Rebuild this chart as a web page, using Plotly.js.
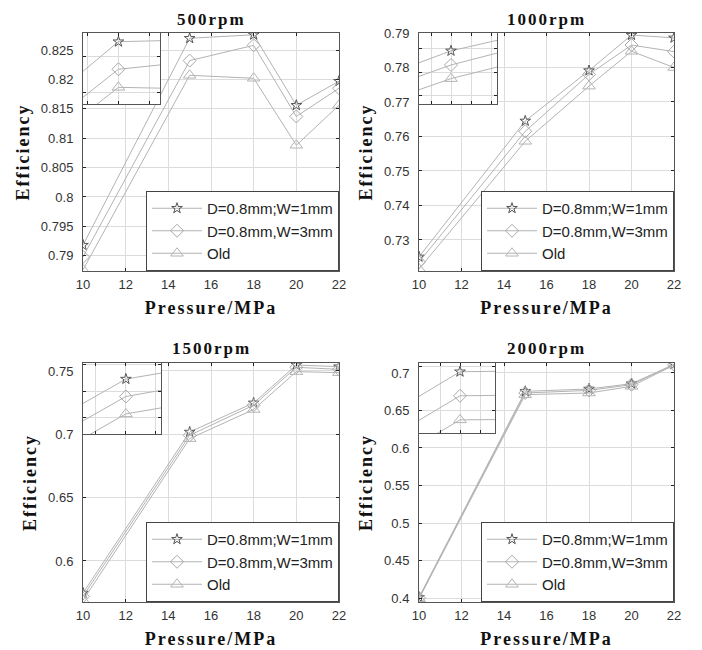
<!DOCTYPE html>
<html><head><meta charset="utf-8">
<script src="https://cdn.plot.ly/plotly-3.0.1.min.js"></script>
<style>
html,body{margin:0;padding:0;background:#fff;}
#chart{width:702px;height:650px;}
text.xtitle, text.x2title, text.x3title, text.x4title,
text.ytitle, text.y2title, text.y3title, text.y4title,
.annotation-text {letter-spacing:2px;}
</style></head><body><div id="chart"></div>
<script>
// ---------------- data ----------------
const pressure = [10, 15, 18, 20, 22];
const seriesNames = ['D=0.8mm;W=1mm', 'D=0.8mm,W=3mm', 'Old'];
const panelTitles = ['500rpm', '1000rpm', '1500rpm', '2000rpm'];
const xTickVals = [10, 12, 14, 16, 18, 20, 22];

const eff500_w1  = [0.7918, 0.8270, 0.8276, 0.8156, 0.8197];
const eff500_w3  = [0.7898, 0.8232, 0.8258, 0.8137, 0.8185];
const eff500_old = [0.7876, 0.8207, 0.8202, 0.8088, 0.8156];

const eff1000_w1  = [0.7251, 0.7645, 0.7791, 0.7894, 0.7886];
const eff1000_w3  = [0.7236, 0.7615, 0.7780, 0.7865, 0.7846];
const eff1000_old = [0.7216, 0.7586, 0.7746, 0.7847, 0.7800];

const eff1500_w1  = [0.5747, 0.7018, 0.7248, 0.7547, 0.7534];
const eff1500_w3  = [0.5721, 0.6992, 0.7230, 0.7529, 0.7513];
const eff1500_old = [0.5690, 0.6966, 0.7196, 0.7495, 0.7487];

const eff2000_w1  = [0.4010, 0.6755, 0.6787, 0.6857, 0.7115];
const eff2000_w3  = [0.4000, 0.6733, 0.6768, 0.6844, 0.7110];
const eff2000_old = [0.3990, 0.6711, 0.6733, 0.6822, 0.7105];

const panelData = [
  [eff500_w1, eff500_w3, eff500_old],
  [eff1000_w1, eff1000_w3, eff1000_old],
  [eff1500_w1, eff1500_w3, eff1500_old],
  [eff2000_w1, eff2000_w3, eff2000_old]
];

// ---------------- styles / layout ----------------
const markerStyles = [
  {symbol: 'star-open', size: 8, color: '#555555'},
  {symbol: 'diamond-open', size: 10, color: '#a8a8a8'},
  {symbol: 'triangle-up-open', size: 11, color: '#b4b4b4'}
];
const lineColor = '#b3b3b3';

const W = 702, H = 650;
const px = v => v / W, py = v => 1 - v / H;
const mainDom = [
  {x: [px(83), px(339)], y: [py(271), py(33)]},
  {x: [px(419), px(674)], y: [py(271), py(33)]},
  {x: [px(83), px(339)], y: [py(602), py(363)]},
  {x: [px(419), px(674)], y: [py(602), py(363)]}
];
const yRanges = [[0.7874, 0.8279], [0.721, 0.79], [0.5676, 0.7563], [0.3947, 0.7133]];
const yDticks = [0.005, 0.01, 0.05, 0.05];

const insetDom = [
  {x: [px(83), px(160)], y: [py(104), py(33)]},
  {x: [px(419), px(497)], y: [py(104), py(33)]},
  {x: [px(83), px(161)], y: [py(434), py(363)]},
  {x: [px(419), px(495)], y: [py(433), py(363)]}
];
const insetX = [[14.42, 15.68], [14.68, 15.46], [14.857, 15.117], [14.959, 15.035]];
const insetXd = [0.5, 0.2, 0.1, 0.02];
const insetY = [[0.8184, 0.8282], [0.7532, 0.7683], [0.6936, 0.7042], [0.6699, 0.6763]];
const insetYd = [0.005, 0.005, 0.004, 0.004];

const tickFont = {family: 'Liberation Sans, Arial, sans-serif', size: 13, color: '#333'};
const titleFont = {family: 'Liberation Serif, Times New Roman, serif', size: 18, color: '#111', weight: 'bold'};

const traces = [];
const layout = {
  width: W, height: H,
  margin: {l: 0, r: 0, t: 0, b: 0},
  paper_bgcolor: '#fff', plot_bgcolor: '#fff',
  showlegend: true,
  annotations: []
};

function axName(i, kind) { return kind + (i === 1 ? '' : i); }

for (let p = 0; p < 4; p++) {
  const ai = p + 1, ii = p + 5;
  const legName = p === 0 ? 'legend' : 'legend' + (p + 1);
  for (let s = 0; s < 3; s++) {
    const base = {
      x: pressure, y: panelData[p][s], name: seriesNames[s],
      type: 'scatter', mode: 'lines+markers',
      line: {color: lineColor, width: 1},
      marker: {symbol: markerStyles[s].symbol, size: markerStyles[s].size,
               color: markerStyles[s].color, line: {width: 1, color: markerStyles[s].color}},
      hoverinfo: 'x+y'
    };
    traces.push(Object.assign({}, base, {xaxis: axName(ai, 'x'), yaxis: axName(ai, 'y'), legend: legName, showlegend: true}));
    traces.push(Object.assign({}, base, {xaxis: 'x' + ii, yaxis: 'y' + ii, showlegend: false}));
  }
  // main axes
  layout[axName(ai, 'xaxis')] = {
    domain: mainDom[p].x, anchor: axName(ai, 'y'), range: [10, 22],
    tickvals: xTickVals, ticks: 'inside', ticklen: 3, tickcolor: '#222',
    mirror: 'allticks', showline: true, linecolor: '#555', linewidth: 1,
    showgrid: true, gridcolor: '#dcdcdc', zeroline: false,
    tickfont: tickFont, ticklabelstandoff: 1,
    title: {text: 'Pressure/MPa', font: titleFont, standoff: 10}
  };
  layout[axName(ai, 'yaxis')] = {
    domain: mainDom[p].y, anchor: axName(ai, 'x'), range: yRanges[p],
    tick0: 0, dtick: yDticks[p], ticks: 'inside', ticklen: 3, tickcolor: '#222',
    mirror: 'allticks', showline: true, linecolor: '#555', linewidth: 1,
    showgrid: true, gridcolor: '#dcdcdc', zeroline: false,
    tickfont: tickFont, ticklabelstandoff: 6,
    title: {text: 'Efficiency', font: titleFont, standoff: 6}
  };
  // inset axes
  layout['xaxis' + ii] = {
    domain: insetDom[p].x, anchor: 'y' + ii, range: insetX[p],
    tick0: 15, dtick: insetXd[p], ticks: 'inside', ticklen: 3, tickcolor: '#222',
    mirror: 'allticks', showline: true, linecolor: '#555', linewidth: 1,
    showgrid: true, gridcolor: '#dcdcdc', zeroline: false, showticklabels: false
  };
  layout['yaxis' + ii] = {
    domain: insetDom[p].y, anchor: 'x' + ii, range: insetY[p],
    tick0: 0, dtick: insetYd[p], ticks: 'inside', ticklen: 3, tickcolor: '#222',
    mirror: 'allticks', showline: true, linecolor: '#555', linewidth: 1,
    showgrid: true, gridcolor: '#dcdcdc', zeroline: false, showticklabels: false
  };
  // legend
  layout[legName] = {
    x: mainDom[p].x[1], y: mainDom[p].y[0], xanchor: 'right', yanchor: 'bottom',
    xref: 'paper', yref: 'paper',
    bgcolor: '#fff', bordercolor: '#444', borderwidth: 1,
    font: {family: 'Liberation Sans, Arial, sans-serif', size: 15, color: '#222'},
    itemwidth: 50, tracegroupgap: 0
  };
  // panel title
  layout.annotations.push({
    text: panelTitles[p], xref: 'paper', yref: 'paper',
    x: (mainDom[p].x[0] + mainDom[p].x[1]) / 2, y: p < 2 ? py(19) : py(348),
    xanchor: 'center', yanchor: 'middle', showarrow: false,
    font: {family: 'Liberation Serif, Times New Roman, serif', size: 17, color: '#111', weight: 'bold'}
  });
}

Plotly.newPlot('chart', traces, layout, {displayModeBar: false, staticPlot: true});
</script></body></html>
